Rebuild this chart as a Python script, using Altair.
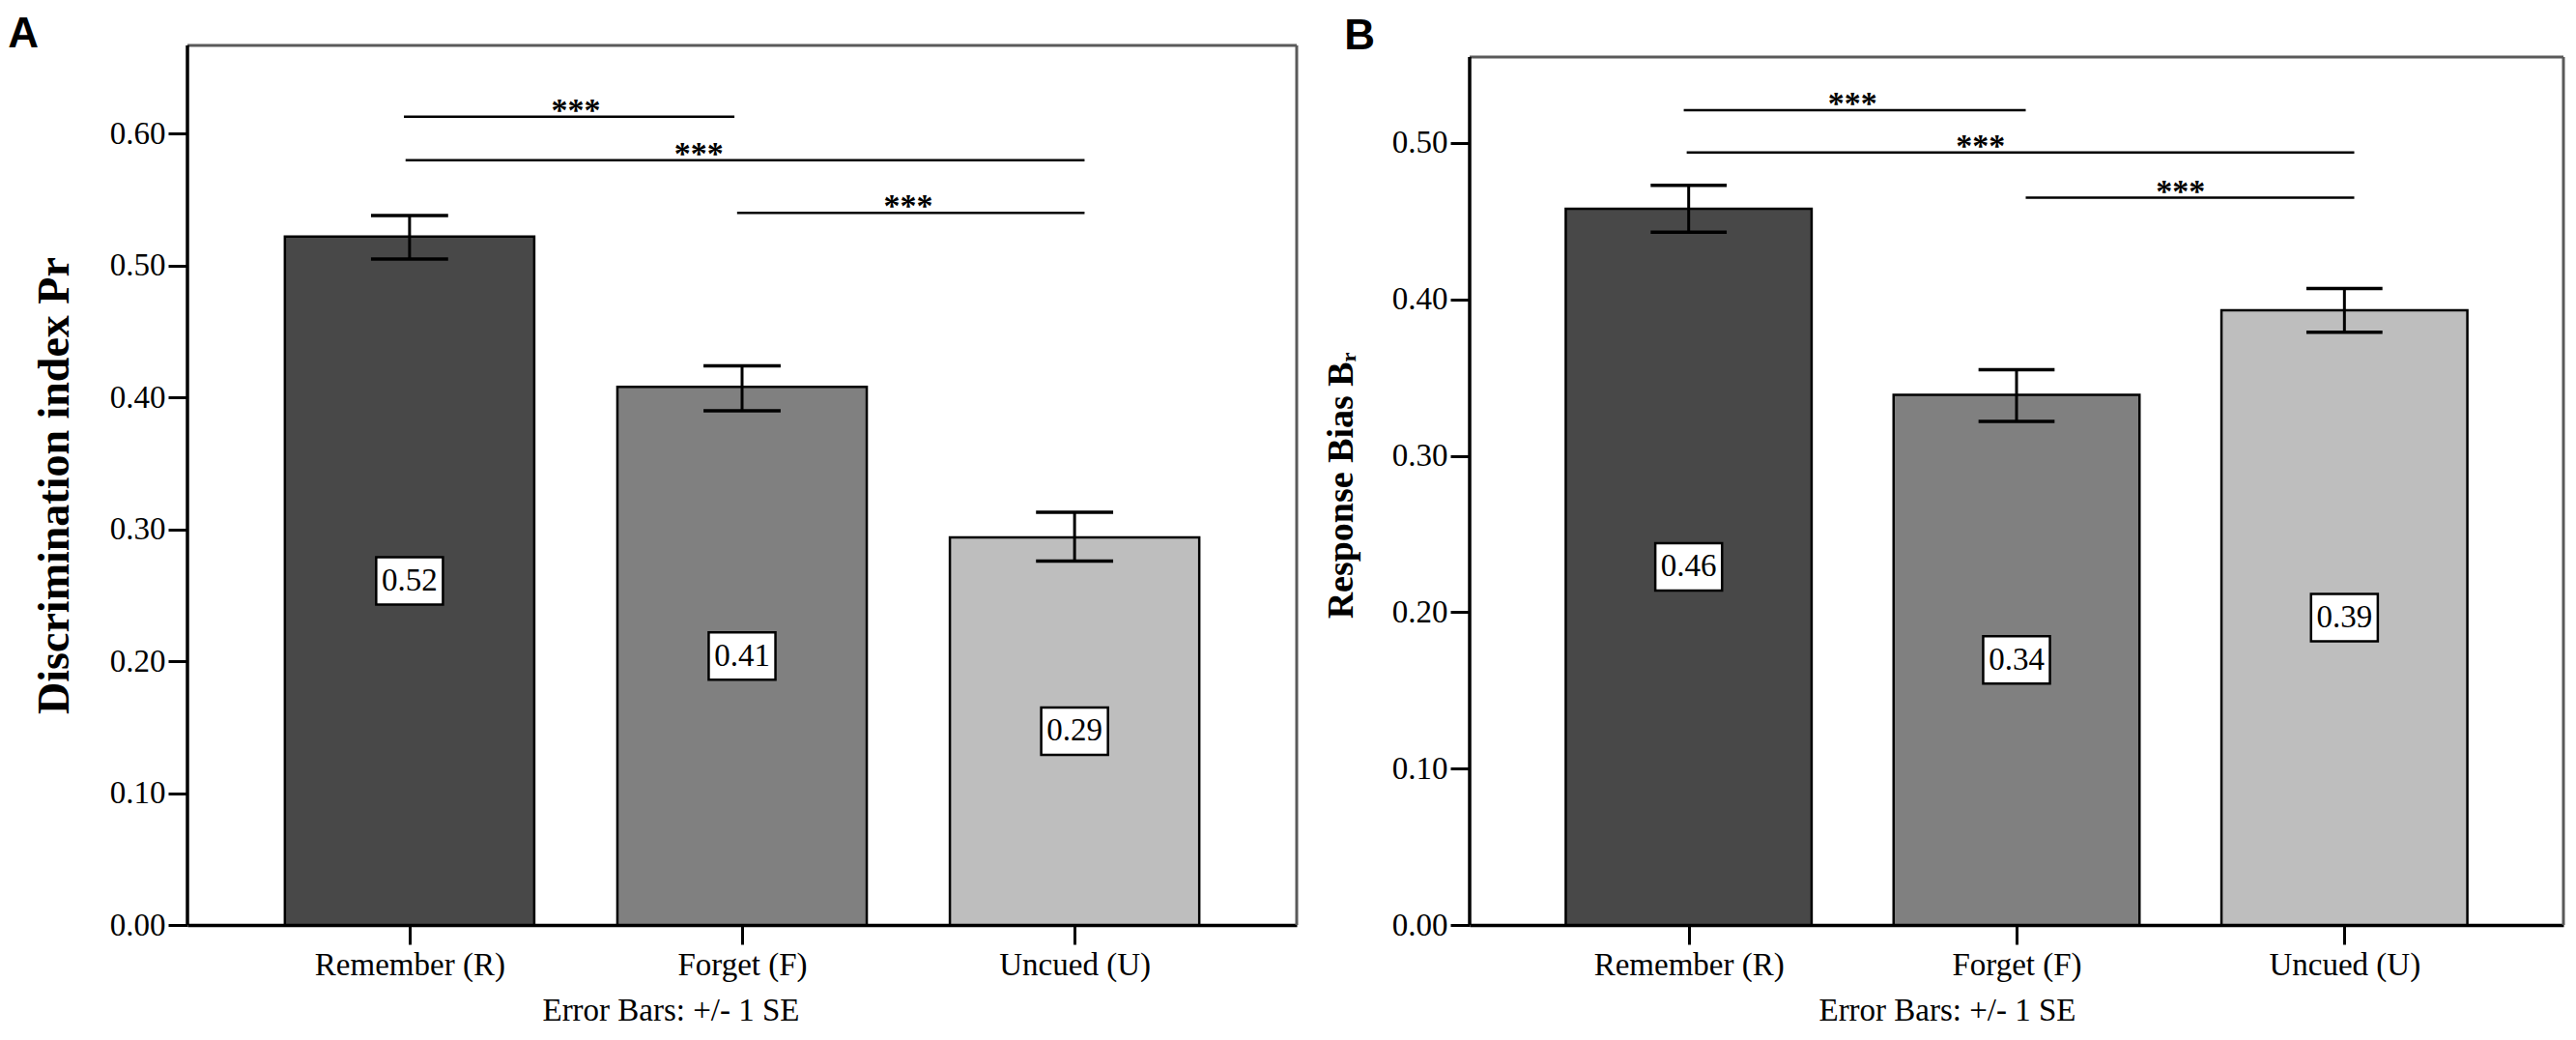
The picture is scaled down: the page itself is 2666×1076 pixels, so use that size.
import json
import altair as alt
import pandas as pd

# ---------------- data ----------------
categories = ["Remember (R)", "Forget (F)", "Uncued (U)"]
cat_index = [0, 1, 2]
bar_colors = ["#484848", "#808080", "#bebebe"]

# Panel A: Discrimination index Pr
pr_mean = [0.522, 0.408, 0.294]
pr_low = [0.505, 0.390, 0.276]
pr_high = [0.538, 0.424, 0.313]

# Panel B: Response bias Br
br_mean = [0.458, 0.339, 0.393]
br_low = [0.443, 0.322, 0.379]
br_high = [0.473, 0.355, 0.407]

# significance brackets (positions on the category axis, height on the value axis)
sig_labels = ["***", "***", "***"]
a_sig_start = [-0.017, -0.012, 0.985]
a_sig_end = [0.977, 2.03, 2.03]
a_sig_y = [0.613, 0.580, 0.540]
a_star_x = [0.5, 0.87, 1.5]

b_sig_start = [-0.015, -0.006, 1.028]
b_sig_end = [1.028, 2.03, 2.03]
b_sig_y = [0.521, 0.494, 0.465]
b_star_x = [0.5, 0.89, 1.5]

a_ticks = [0.0, 0.1, 0.2, 0.3, 0.4, 0.5, 0.6]
b_ticks = [0.0, 0.1, 0.2, 0.3, 0.4, 0.5]

# axis extents: value at the frame top, and value at the top of the drawing area
a_frame_top, a_scale_top = 0.667, 0.667
b_frame_top, b_scale_top = 0.555, 0.5624
X_MIN, X_MAX = -0.668, 2.668

SERIF = "Liberation Serif"
BOX_PATH = "M-1.41,-1L1.41,-1L1.41,1L-1.41,1Z"
FRAME_GREY = "#5a5a5a"


def panel(mean, low, high, sig_start, sig_end, sig_y, star_x, frame_top, scale_top,
          yticks, ytitle, ytitle_size, letter, letter_dx, width, height, xtitle_x):
    df = pd.DataFrame({
        "idx": cat_index, "cat": categories, "mean": mean,
        "low": low, "high": high, "color": bar_colors,
    })
    sig = pd.DataFrame({"x0": sig_start, "x1": sig_end, "y": sig_y,
                        "sx": star_x, "label": sig_labels})
    frame = pd.DataFrame({"xmin": [X_MIN], "xmax": [X_MAX], "top": [frame_top], "zero": [0.0]})

    label_expr = json.dumps(categories) + "[datum.value]"
    xscale = alt.Scale(domain=[X_MIN, X_MAX], nice=False, zero=False)
    yscale = alt.Scale(domain=[0, scale_top], nice=False)

    xaxis = alt.Axis(values=cat_index, labelExpr=label_expr, title="Error Bars: +/- 1 SE",
                     titleFont=SERIF, titleFontSize=33, titleFontWeight="normal",
                     titleColor="black", titlePadding=14, titleX=xtitle_x,
                     labelPadding=5, labelFlush=False, labelLimit=0)
    yaxis = alt.Axis(values=yticks, format=".2f", title=ytitle, domain=False,
                     titleFont=SERIF, titleFontSize=ytitle_size, titleFontWeight="bold",
                     titleColor="black", titlePadding=33, labelPadding=3)

    base = alt.Chart(df)

    bars = base.transform_calculate(
        left="datum.idx - 0.375", right="datum.idx + 0.375"
    ).mark_bar(stroke="black", strokeWidth=2.5).encode(
        x=alt.X("left:Q", scale=xscale, axis=xaxis),
        x2="right:Q",
        y=alt.Y("mean:Q", scale=yscale, axis=yaxis),
        y2=alt.datum(0),
        fill=alt.Fill("color:N", scale=None),
    )

    err = base.mark_rule(color="black", strokeWidth=3).encode(
        x="idx:Q", y="low:Q", y2="high:Q")

    caps = base.transform_fold(["low", "high"], as_=["which", "val"]).transform_calculate(
        cl="datum.idx - 0.116", cr="datum.idx + 0.116"
    ).mark_rule(color="black", strokeWidth=3.5).encode(
        x="cl:Q", x2="cr:Q", y="val:Q")

    mid = base.transform_calculate(half="datum.mean / 2")
    boxes = mid.mark_point(shape=BOX_PATH, size=2401, filled=True, fill="white",
                           stroke="black", strokeWidth=2.5, opacity=1).encode(
        x="idx:Q", y="half:Q")
    texts = mid.mark_text(font=SERIF, fontSize=33, baseline="middle", color="black").encode(
        x="idx:Q", y="half:Q", text=alt.Text("mean:Q", format=".2f"))

    sbase = alt.Chart(sig)
    lines = sbase.mark_rule(color="black", strokeWidth=2.5).encode(
        x="x0:Q", x2="x1:Q", y="y:Q")
    stars = sbase.mark_text(font=SERIF, fontSize=34, fontWeight="bold",
                            baseline="alphabetic", color="black", dy=4).encode(
        x="sx:Q", y="y:Q", text="label:N")

    fbase = alt.Chart(frame)
    top_rule = fbase.mark_rule(color=FRAME_GREY, strokeWidth=3).encode(
        x="xmin:Q", x2="xmax:Q", y="top:Q")
    right_rule = fbase.mark_rule(color=FRAME_GREY, strokeWidth=3).encode(
        x="xmax:Q", y="zero:Q", y2="top:Q")
    left_rule = fbase.mark_rule(color="black", strokeWidth=3.5).encode(
        x="xmin:Q", y="zero:Q", y2="top:Q")

    return alt.layer(bars, err, caps, boxes, texts, lines, stars,
                     top_rule, right_rule, left_rule).properties(
        width=width, height=height,
        title=alt.TitleParams(letter, anchor="start", frame="bounds",
                              font="Liberation Sans", fontSize=44, fontWeight="bold",
                              color="black", offset=-13, dx=letter_dx),
    )


chart_a = panel(pr_mean, pr_low, pr_high, a_sig_start, a_sig_end, a_sig_y, a_star_x,
                a_frame_top, a_scale_top, a_ticks, "Discrimination index Pr", 46, "A", -25,
                1148, 910, 500)
chart_b = panel(br_mean, br_low, br_high, b_sig_start, b_sig_end, b_sig_y, b_star_x,
                b_frame_top, b_scale_top, b_ticks, "Response Bias B\u1d63", 38, "B", 22,
                1132, 910, 494)

chart = alt.hconcat(chart_a, chart_b, spacing=25).properties(
    padding={"top": 6, "left": 0, "right": 0, "bottom": 0}, background="white"
).configure_view(
    strokeWidth=0
).configure_axis(
    domainColor="black", domainWidth=3.5, tickColor="black", tickWidth=3, tickSize=20,
    labelFont=SERIF, labelFontSize=33, labelColor="black", grid=False, zindex=1,
)

chart.save("out.html", embed_options={"renderer": "svg", "actions": False})
